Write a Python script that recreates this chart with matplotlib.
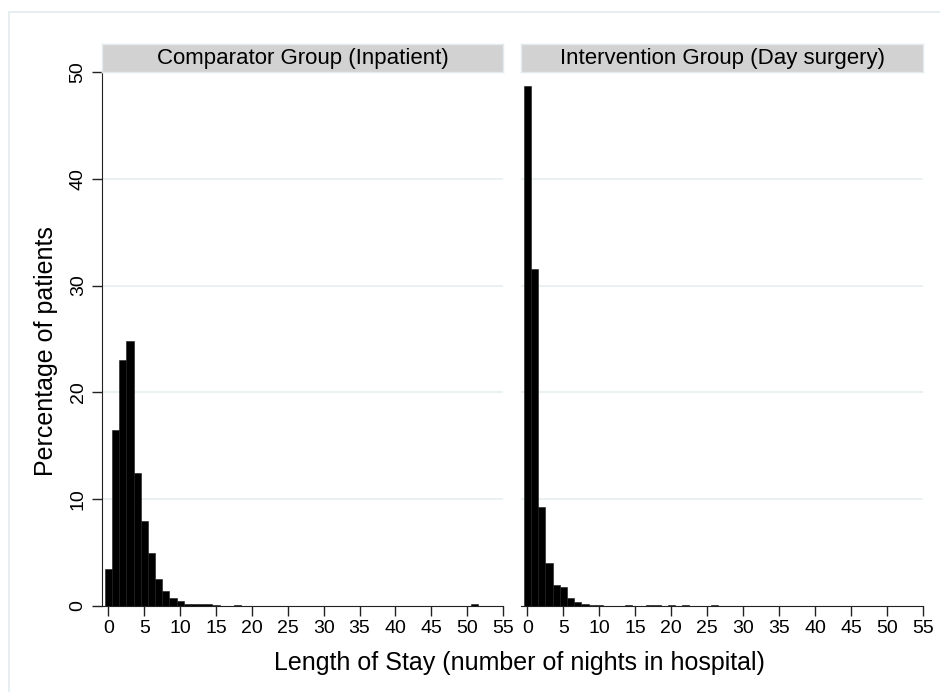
import numpy as np
import matplotlib
matplotlib.use("Agg")
from matplotlib import pyplot as plt
from matplotlib.patches import Rectangle

plt.rcParams['font.family'] = ['Liberation Sans', 'DejaVu Sans']

# DADOS (percentual de pacientes por numero de noites)
noites_comp = [0, 1, 2, 3, 4, 5, 6, 7, 8, 9, 10, 11, 12, 13, 14, 15, 18, 51]
pct_comp = [3.5, 16.5, 23.0, 24.8, 12.5, 8.0, 5.0, 2.5, 1.45, 0.75, 0.45,
            0.15, 0.2, 0.15, 0.15, 0.1, 0.1, 0.15]

noites_interv = [0, 1, 2, 3, 4, 5, 6, 7, 8, 9, 10, 14, 17, 18, 20, 22, 26]
pct_interv = [48.7, 31.6, 9.3, 4.0, 2.0, 1.75, 0.75, 0.35, 0.15, 0.1, 0.1,
              0.1, 0.1, 0.1, 0.1, 0.1, 0.1]

titulos = ["Comparator Group (Inpatient)", "Intervention Group (Day surgery)"]
xticks = list(range(0, 60, 5))
yticks = list(range(0, 60, 10))

W, H = 940, 692
fig = plt.figure(figsize=(W/100, H/100), dpi=100)

# moldura externa clara (recortada na direita e embaixo)
fig.patches.append(Rectangle((9/W, -0.1), 1.2, 1 - 12/H + 0.1, transform=fig.transFigure,
                             fill=False, edgecolor="#e3ebef", linewidth=1.2, zorder=0))

cor_grid = "#e4edf0"
cor_eixo = "#222222"
posicoes = [(102, 503), (521, 923)]
topo, base = 72, 606

for count, (dados_x, dados_y) in enumerate([(noites_comp, pct_comp), (noites_interv, pct_interv)]):
    x0, x1 = posicoes[count]
    ax = fig.add_axes([x0/W, (H-base)/H, (x1-x0)/W, (base-topo)/H])
    ax.bar(dados_x, dados_y, width=1, align='center', color="black",
           edgecolor="#1a1a1a", linewidth=0.4, zorder=3)
    ax.set_xlim(-0.9, 55)
    ax.set_ylim(0, 50)
    ax.set_yticks(yticks)
    ax.set_xticks(xticks)
    for g in [10, 20, 30, 40]:
        ax.axhline(g, color=cor_grid, linewidth=1.1, zorder=1)
    for lado in ["top", "right"]:
        ax.spines[lado].set_visible(False)
    ax.spines["bottom"].set_color(cor_eixo)
    ax.spines["left"].set_color(cor_eixo)
    ax.tick_params(axis='x', labelsize=14, length=7, width=1, color=cor_eixo, pad=3)
    if count == 0:
        ax.tick_params(axis='y', labelsize=14, length=7, width=1, color=cor_eixo, pad=4)
        for lab in ax.get_yticklabels():
            lab.set_rotation(90)
            lab.set_va('center')
        ax.set_ylabel("Percentage of patients", fontsize=18)
        ax.yaxis.set_label_coords(-0.11, 0.477)
    else:
        ax.spines["left"].set_visible(False)
        ax.tick_params(axis='y', left=False, labelleft=False)

    # faixa do titulo do painel
    sax = fig.add_axes([x0/W, (H-topo)/H, (x1-x0)/W, 28/H])
    sax.set_facecolor("#d2d2d2")
    sax.set_xticks([])
    sax.set_yticks([])
    for sp in sax.spines.values():
        sp.set_color("#e3ebef")
        sp.set_linewidth(1)
    sax.text(0.5, 0.48, titulos[count], ha='center', va='center', fontsize=16,
             transform=sax.transAxes)

fig.text(519/W, 1 - 663/H, "Length of Stay (number of nights in hospital)",
         ha='center', va='center', fontsize=18)

plt.savefig("out.png", dpi=100)
plt.close()
